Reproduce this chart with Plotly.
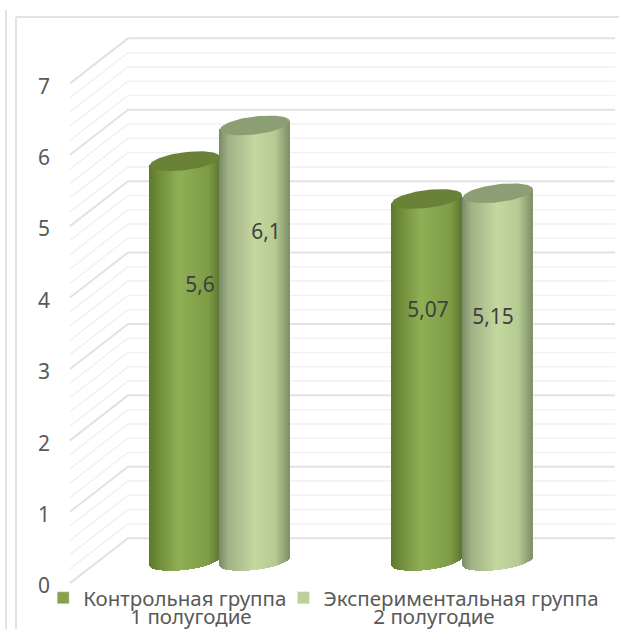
import numpy as np
import plotly.graph_objects as go

# values
categories = ["1 полугодие", "2 полугодие"]
series_names = ["Контрольная группа", "Экспериментальная группа"]
control = [5.6, 5.07]
experiment = [6.1, 5.15]
y_ticks = [0, 1, 2, 3, 4, 5, 6, 7]

# page layout, the x axis is just page pixels
W, H = 619, 629
M_L, M_B = 55, 25
PX_UNIT = 71.4          # pixels per value unit
Y0_FRONT = 586          # pixel row of value 0 on the tick axis
Y0_BARS = 561           # pixel row of value 0 under the cylinders
WALL_LIFT = 0.67        # how far the back wall sits above the tick axis
FRONT_LIFT = 0.04       # same for the front end of the side wall lines
FRONT_X, BACK_X, RIGHT_X = 70, 128, 615

bar_left = [[150, 392], [220, 463]]
bar_width = 70
ell_b = 9 / PX_UNIT     # ellipse half height, value units
tilt = 0.115 / PX_UNIT  # rise per pixel across the cylinder

dark_stops = [(0, "#5f7a2f"), (0.12, "#6f8b39"), (0.42, "#90b056"), (0.85, "#7d9c45"), (1, "#5d7630")]
light_stops = [(0, "#7c8c68"), (0.12, "#a0b185"), (0.5, "#c4d9a0"), (0.8, "#b6ca93"), (1, "#7d8f66")]
top_colors = ["#6a8237", "#8c9e73"]
legend_colors = ["#84a24a", "#bcd097"]
label_dx = [[15, 1], [11, -5]]
label_frac = [[0.685, 0.689], [0.751, 0.659]]

FONT = "Noto Sans"


def y_front(px_row):
    return (Y0_FRONT - px_row) / PX_UNIT


def strip_colors(stops, t):
    out = []
    pos = [s[0] for s in stops]
    rgb = np.array([[int(s[1][i:i + 2], 16) for i in (1, 3, 5)] for s in stops])
    for v in t:
        c = [int(np.interp(v, pos, rgb[:, k])) for k in range(3)]
        out.append("rgb(%d,%d,%d)" % tuple(c))
    return out


fig = go.Figure()

# side wall and back wall grid, every 0.2
grid = np.round(np.arange(0, 7.01, 0.2), 1)
for v in grid:
    major = abs(v - round(v)) < 1e-6
    fig.add_trace(go.Scatter(
        x=[FRONT_X, BACK_X, RIGHT_X], y=[v + FRONT_LIFT, v + WALL_LIFT, v + WALL_LIFT],
        mode="lines", line=dict(color="#e2e2e2" if major else "#f1f1f1", width=2 if major else 1.5),
        showlegend=False, hoverinfo="skip",
    ))

# cylinders: one bar per pixel column so the shading can change across the width
for s, (values, stops) in enumerate(zip([control, experiment], [dark_stops, light_stops])):
    for g, v in enumerate(values):
        a = bar_width / 2
        cx = bar_left[s][g] + a
        xs = np.arange(bar_left[s][g] + 0.5, bar_left[s][g] + bar_width + 0.5)
        dx = xs - cx
        under = ell_b * np.sqrt(np.clip(1 - (dx / a) ** 2, 0, 1))
        low = -under + tilt * dx
        high = v + tilt * dx
        fig.add_trace(go.Bar(
            x=xs, y=high - low, base=low, width=1.3,
            marker=dict(color=strip_colors(stops, (xs - xs[0]) / bar_width), line_width=0),
            yaxis="y2", showlegend=False, hoverinfo="skip",
        ))
        t = np.linspace(0, 2 * np.pi, 80)
        ex = a * np.cos(t)
        fig.add_trace(go.Scatter(
            x=cx + ex, y=v + tilt * ex + ell_b * np.sin(t),
            mode="lines", fill="toself", fillcolor=top_colors[s], line=dict(width=0),
            yaxis="y2", showlegend=False, hoverinfo="skip",
        ))

# legend entries with a flat swatch, one legend each so they can sit tight together
for name, col, leg in zip(series_names, legend_colors, ["legend", "legend2"]):
    fig.add_trace(go.Bar(x=[None], y=[None], name=name, marker=dict(color=col), yaxis="y2",
                         legend=leg, showlegend=True))

# value labels
for s, values in enumerate([control, experiment]):
    for g, v in enumerate(values):
        fig.add_trace(go.Scatter(
            x=[bar_left[s][g] + bar_width / 2 + label_dx[s][g]], y=[v * label_frac[s][g]],
            mode="text", text=[str(v).replace(".", ",")],
            textfont=dict(family=FONT, size=21, color="#404040"),
            yaxis="y2", showlegend=False, hoverinfo="skip",
        ))

# outer frames of the screenshot
frame = dict(type="line", xref="paper", yref="paper", line=dict(color="#e3e3e3", width=2))
shapes = [
    dict(frame, x0=-(M_L - 6) / (W - M_L), x1=-(M_L - 6) / (W - M_L), y0=-M_B / (H - M_B), y1=1 - 10 / (H - M_B)),
    dict(frame, x0=-(M_L - 16) / (W - M_L), x1=-(M_L - 16) / (W - M_L), y0=-M_B / (H - M_B), y1=1 - 17 / (H - M_B)),
    dict(frame, x0=-(M_L - 16) / (W - M_L), x1=1, y0=1 - 17 / (H - M_B), y1=1 - 17 / (H - M_B)),
]

legend_style = dict(
    orientation="h", yanchor="middle", xanchor="left", y=0.01,
    font=dict(family=FONT, size=20.5, color="#595959"), bgcolor="rgba(0,0,0,0)",
    itemclick=False, itemdoubleclick=False,
)

plot_h = H - M_B
fig.update_layout(
    width=W, height=H, autosize=False,
    margin=dict(l=M_L, r=0, t=0, b=M_B),
    paper_bgcolor="white", plot_bgcolor="white",
    barmode="overlay", bargap=0,
    shapes=shapes,
    xaxis=dict(
        range=[M_L, W], showgrid=False, zeroline=False, showline=False,
        tickmode="array", tickvals=[191, 434], ticktext=categories, ticks="",
        tickfont=dict(family=FONT, size=20.5, color="#595959"), ticklabelstandoff=-2,
    ),
    yaxis=dict(
        range=[y_front(plot_h), y_front(0)], showgrid=False, zeroline=False, showline=False,
        tickmode="array", tickvals=y_ticks, ticks="", ticklabelstandoff=4,
        tickfont=dict(family=FONT, size=21, color="#595959"),
    ),
    yaxis2=dict(
        overlaying="y", side="left", visible=False,
        range=[(Y0_BARS - plot_h) / PX_UNIT, Y0_BARS / PX_UNIT],
    ),
    legend=dict(legend_style, x=-0.021),
    legend2=dict(legend_style, x=0.405),
)

# the page's default body margin would push the chart off the window
fig.write_html("out.html", config={"displayModeBar": False},
               post_script="document.body.style.margin = '0';")
